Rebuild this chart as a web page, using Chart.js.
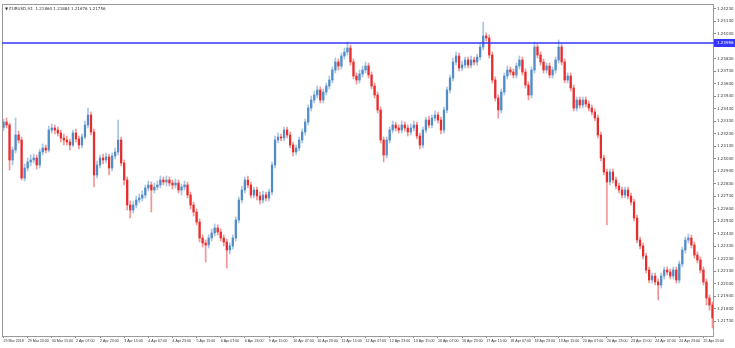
<!DOCTYPE html>
<html>
<head>
<meta charset="utf-8">
<script src="https://cdn.jsdelivr.net/npm/chart.js@4.4.1/dist/chart.umd.min.js"></script>
<style>
  html, body { margin: 0; padding: 0; background: #fff; }
  #wrap { width: 735px; height: 348px; }
</style>
</head>
<body>
<div id="wrap"><canvas id="eurusd" width="735" height="348"></canvas></div>
<script>
var symbolTitle = "\u25BC EURUSD,H1  1.21860 1.21884 1.21676 1.21756";

var timeLabels = ["29 Mar 2018","29 Mar 23:00","30 Mar 15:00","2 Apr 07:00","2 Apr 23:00","3 Apr 15:00",
  "4 Apr 07:00","4 Apr 23:00","5 Apr 15:00","6 Apr 07:00","6 Apr 23:00","9 Apr 15:00","10 Apr 07:00",
  "10 Apr 23:00","11 Apr 15:00","12 Apr 07:00","12 Apr 23:00","13 Apr 15:00","16 Apr 07:00","16 Apr 23:00",
  "17 Apr 15:00","18 Apr 07:00","18 Apr 23:00","19 Apr 15:00","20 Apr 07:00","20 Apr 23:00","23 Apr 15:00",
  "24 Apr 07:00","24 Apr 23:00","25 Apr 15:00"];

var priceTicks = [1.24230,1.24130,1.24030,1.23930,1.23830,1.23730,1.23630,1.23530,1.23430,1.23330,
  1.23230,1.23130,1.23030,1.22930,1.22830,1.22730,1.22630,1.22530,1.22430,1.22330,
  1.22230,1.22130,1.22030,1.21930,1.21830,1.21730];

var bidLevel = 1.23956;

var opens = [1.23280,1.23324,1.23300,1.23020,1.23100,1.23220,1.23180,1.22876,1.22956,1.23004,
  1.23020,1.23036,1.22980,1.23084,1.23116,1.23100,1.23260,1.23276,1.23260,1.23236,
  1.23196,1.23180,1.23164,1.23140,1.23236,1.23188,1.23140,1.23204,1.23300,1.23380,
  1.23244,1.22900,1.22980,1.23036,1.23020,1.23044,1.22956,1.23052,1.23084,1.23180,
  1.22996,1.22860,1.22660,1.22620,1.22660,1.22700,1.22716,1.22740,1.22796,1.22820,
  1.22780,1.22804,1.22820,1.22860,1.22844,1.22860,1.22836,1.22820,1.22836,1.22780,
  1.22804,1.22820,1.22740,1.22660,1.22604,1.22524,1.22396,1.22356,1.22340,1.22396,
  1.22436,1.22476,1.22444,1.22396,1.22364,1.22300,1.22332,1.22396,1.22540,1.22700,
  1.22780,1.22860,1.22820,1.22740,1.22780,1.22732,1.22700,1.22740,1.22716,1.22764,
  1.22980,1.23180,1.23204,1.23196,1.23260,1.23220,1.23140,1.23084,1.23116,1.23180,
  1.23244,1.23324,1.23436,1.23500,1.23540,1.23580,1.23500,1.23564,1.23612,1.23660,
  1.23740,1.23804,1.23772,1.23852,1.23884,1.23916,1.23804,1.23692,1.23660,1.23708,
  1.23740,1.23772,1.23700,1.23612,1.23540,1.23420,1.23180,1.23060,1.23180,1.23260,
  1.23300,1.23276,1.23260,1.23300,1.23276,1.23244,1.23276,1.23300,1.23212,1.23140,
  1.23260,1.23340,1.23300,1.23356,1.23380,1.23340,1.23260,1.23420,1.23580,1.23676,
  1.23804,1.23852,1.23756,1.23780,1.23820,1.23780,1.23820,1.23804,1.23844,1.23924,
  1.24012,1.23996,1.23860,1.23660,1.23516,1.23420,1.23564,1.23692,1.23740,1.23724,
  1.23700,1.23772,1.23820,1.23724,1.23620,1.23540,1.23740,1.23924,1.23860,1.23804,
  1.23740,1.23772,1.23700,1.23740,1.23820,1.23924,1.23804,1.23660,1.23692,1.23596,
  1.23436,1.23500,1.23460,1.23500,1.23468,1.23436,1.23404,1.23356,1.23220,1.23036,
  1.22924,1.22844,1.22924,1.22860,1.22812,1.22780,1.22740,1.22780,1.22732,1.22684,
  1.22556,1.22380,1.22332,1.22252,1.22140,1.22060,1.22092,1.22044,1.22020,1.22092,
  1.22140,1.22124,1.22092,1.22140,1.22060,1.22188,1.22300,1.22380,1.22396,1.22340,
  1.22260,1.22220,1.22140,1.22044,1.21916,1.21860];

var highs = [1.23348,1.23356,1.23316,1.23124,1.23356,1.23252,1.23204,1.22988,1.23036,1.23060,
  1.23068,1.23060,1.23108,1.23148,1.23140,1.23292,1.23308,1.23300,1.23284,1.23260,
  1.23228,1.23212,1.23188,1.23260,1.23268,1.23212,1.23228,1.23332,1.23436,1.23404,
  1.23268,1.23012,1.23060,1.23068,1.23076,1.23068,1.23076,1.23116,1.23340,1.23204,
  1.23020,1.22884,1.22692,1.22692,1.22732,1.22748,1.22772,1.22820,1.22852,1.22844,
  1.22836,1.22852,1.22892,1.22884,1.22892,1.22884,1.22860,1.22868,1.22860,1.22828,
  1.22852,1.22844,1.22764,1.22684,1.22628,1.22548,1.22420,1.22380,1.22420,1.22468,
  1.22508,1.22500,1.22468,1.22420,1.22388,1.22356,1.22420,1.22564,1.22724,1.22812,
  1.22884,1.22892,1.22844,1.22804,1.22804,1.22764,1.22772,1.22764,1.22788,1.23004,
  1.23212,1.23236,1.23228,1.23284,1.23284,1.23244,1.23164,1.23140,1.23204,1.23268,
  1.23348,1.23460,1.23532,1.23572,1.23612,1.23604,1.23588,1.23636,1.23692,1.23764,
  1.23836,1.23828,1.23876,1.23916,1.23964,1.23940,1.23828,1.23716,1.23740,1.23772,
  1.23804,1.23796,1.23724,1.23636,1.23564,1.23444,1.23204,1.23204,1.23284,1.23332,
  1.23324,1.23300,1.23332,1.23324,1.23300,1.23308,1.23332,1.23324,1.23236,1.23284,
  1.23364,1.23372,1.23380,1.23412,1.23404,1.23364,1.23444,1.23604,1.23700,1.23836,
  1.23884,1.23876,1.23812,1.23844,1.23844,1.23852,1.23844,1.23868,1.23948,1.24124,
  1.24036,1.24020,1.23884,1.23684,1.23540,1.23588,1.23716,1.23772,1.23764,1.23748,
  1.23796,1.23852,1.23844,1.23748,1.23644,1.23764,1.23964,1.23948,1.23884,1.23828,
  1.23796,1.23796,1.23764,1.23844,1.23980,1.23948,1.23828,1.23716,1.23716,1.23620,
  1.23524,1.23524,1.23524,1.23524,1.23492,1.23460,1.23428,1.23380,1.23244,1.23060,
  1.22948,1.22948,1.22948,1.22884,1.22836,1.22804,1.22804,1.22804,1.22756,1.22708,
  1.22580,1.22404,1.22356,1.22276,1.22164,1.22116,1.22116,1.22068,1.22116,1.22164,
  1.22164,1.22148,1.22164,1.22164,1.22212,1.22324,1.22404,1.22428,1.22420,1.22364,
  1.22284,1.22244,1.22164,1.22068,1.21940,1.21884];

var lows = [1.23256,1.23276,1.22940,1.22980,1.23076,1.23156,1.22860,1.22852,1.22932,1.22972,
  1.22996,1.22948,1.22956,1.23060,1.23076,1.23084,1.23236,1.23228,1.23212,1.23164,
  1.23140,1.23140,1.23100,1.23124,1.23164,1.23108,1.23116,1.23188,1.23276,1.23220,
  1.22804,1.22876,1.22956,1.22988,1.22996,1.22900,1.22932,1.23028,1.23060,1.22972,
  1.22820,1.22620,1.22556,1.22596,1.22636,1.22676,1.22692,1.22716,1.22772,1.22604,
  1.22756,1.22780,1.22796,1.22820,1.22812,1.22812,1.22788,1.22796,1.22756,1.22740,
  1.22780,1.22716,1.22628,1.22572,1.22500,1.22364,1.22324,1.22204,1.22316,1.22372,
  1.22412,1.22420,1.22372,1.22332,1.22156,1.22268,1.22308,1.22372,1.22516,1.22676,
  1.22756,1.22796,1.22716,1.22716,1.22700,1.22668,1.22676,1.22692,1.22692,1.22740,
  1.22956,1.23156,1.23172,1.23172,1.23196,1.23116,1.23052,1.23060,1.23092,1.23156,
  1.23220,1.23300,1.23412,1.23476,1.23516,1.23476,1.23476,1.23540,1.23588,1.23636,
  1.23716,1.23740,1.23748,1.23828,1.23860,1.23780,1.23668,1.23628,1.23636,1.23684,
  1.23716,1.23676,1.23588,1.23516,1.23396,1.23156,1.23004,1.23036,1.23156,1.23236,
  1.23252,1.23236,1.23236,1.23252,1.23212,1.23220,1.23252,1.23188,1.23108,1.23116,
  1.23236,1.23276,1.23276,1.23332,1.23316,1.23228,1.23236,1.23396,1.23556,1.23652,
  1.23780,1.23732,1.23732,1.23756,1.23756,1.23756,1.23780,1.23780,1.23820,1.23900,
  1.23972,1.23836,1.23636,1.23492,1.23356,1.23396,1.23540,1.23668,1.23700,1.23676,
  1.23676,1.23748,1.23700,1.23596,1.23500,1.23516,1.23716,1.23836,1.23780,1.23716,
  1.23716,1.23676,1.23676,1.23716,1.23796,1.23780,1.23636,1.23636,1.23572,1.23412,
  1.23412,1.23436,1.23436,1.23444,1.23412,1.23380,1.23332,1.23196,1.23012,1.22900,
  1.22500,1.22820,1.22836,1.22788,1.22756,1.22716,1.22716,1.22708,1.22660,1.22532,
  1.22356,1.22308,1.22228,1.22116,1.22036,1.22036,1.22020,1.21900,1.21996,1.22068,
  1.22100,1.22068,1.22068,1.22036,1.22036,1.22164,1.22276,1.22356,1.22316,1.22236,
  1.22196,1.22116,1.22020,1.21860,1.21820,1.21676];

var closes = [1.23324,1.23300,1.23020,1.23100,1.23220,1.23180,1.22876,1.22956,1.23004,1.23020,
  1.23036,1.22980,1.23084,1.23116,1.23100,1.23260,1.23276,1.23260,1.23236,1.23196,
  1.23180,1.23164,1.23140,1.23236,1.23188,1.23140,1.23204,1.23300,1.23380,1.23244,
  1.22900,1.22980,1.23036,1.23020,1.23044,1.22956,1.23052,1.23084,1.23180,1.22996,
  1.22860,1.22660,1.22620,1.22660,1.22700,1.22716,1.22740,1.22796,1.22820,1.22780,
  1.22804,1.22820,1.22860,1.22844,1.22860,1.22836,1.22820,1.22836,1.22780,1.22804,
  1.22820,1.22740,1.22660,1.22604,1.22524,1.22396,1.22356,1.22340,1.22396,1.22436,
  1.22476,1.22444,1.22396,1.22364,1.22300,1.22332,1.22396,1.22540,1.22700,1.22780,
  1.22860,1.22820,1.22740,1.22780,1.22732,1.22700,1.22740,1.22716,1.22764,1.22980,
  1.23180,1.23204,1.23196,1.23260,1.23220,1.23140,1.23084,1.23116,1.23180,1.23244,
  1.23324,1.23436,1.23500,1.23540,1.23580,1.23500,1.23564,1.23612,1.23660,1.23740,
  1.23804,1.23772,1.23852,1.23884,1.23916,1.23804,1.23692,1.23660,1.23708,1.23740,
  1.23772,1.23700,1.23612,1.23540,1.23420,1.23180,1.23060,1.23180,1.23260,1.23300,
  1.23276,1.23260,1.23300,1.23276,1.23244,1.23276,1.23300,1.23212,1.23140,1.23260,
  1.23340,1.23300,1.23356,1.23380,1.23340,1.23260,1.23420,1.23580,1.23676,1.23804,
  1.23852,1.23756,1.23780,1.23820,1.23780,1.23820,1.23804,1.23844,1.23924,1.24012,
  1.23996,1.23860,1.23660,1.23516,1.23420,1.23564,1.23692,1.23740,1.23724,1.23700,
  1.23772,1.23820,1.23724,1.23620,1.23540,1.23740,1.23924,1.23860,1.23804,1.23740,
  1.23772,1.23700,1.23740,1.23820,1.23924,1.23804,1.23660,1.23692,1.23596,1.23436,
  1.23500,1.23460,1.23500,1.23468,1.23436,1.23404,1.23356,1.23220,1.23036,1.22924,
  1.22844,1.22924,1.22860,1.22812,1.22780,1.22740,1.22780,1.22732,1.22684,1.22556,
  1.22380,1.22332,1.22252,1.22140,1.22060,1.22092,1.22044,1.22020,1.22092,1.22140,
  1.22124,1.22092,1.22140,1.22060,1.22188,1.22300,1.22380,1.22396,1.22340,1.22260,
  1.22220,1.22140,1.22044,1.21916,1.21860,1.21756];

// bar index categories, bodies and wicks as floating bars
var bars = opens.map(function(v, i) { return i; });
var bodies = opens.map(function(o, i) { return [o, closes[i]]; });
var wicks = lows.map(function(l, i) { return [l, highs[i]]; });

function candleColor(i, a) {
  return closes[i] >= opens[i] ? 'rgba(80,140,200,' + a + ')' : 'rgba(232,44,44,' + a + ')';
}

var mtOverlay = {
  id: 'mtOverlay',
  afterDraw: function(chart) {
    var ctx = chart.ctx, a = chart.chartArea, ys = chart.scales.y;
    ctx.save();
    // frame
    ctx.strokeStyle = '#9a9a9a';
    ctx.lineWidth = 1;
    ctx.strokeRect(a.left + 0.5, a.top + 0.5, a.right - a.left - 1, a.bottom - a.top);
    // bid line
    var py = Math.round(ys.getPixelForValue(bidLevel));
    ctx.strokeStyle = '#3434ff';
    ctx.lineWidth = 1.5;
    ctx.beginPath();
    ctx.moveTo(a.left, py);
    ctx.lineTo(a.right, py);
    ctx.stroke();
    ctx.fillStyle = '#3434ff';
    ctx.fillRect(a.right, py - 4, 21, 8);
    ctx.fillStyle = '#fff';
    ctx.font = '4px "DejaVu Sans"';
    ctx.textBaseline = 'middle';
    ctx.fillText(bidLevel.toFixed(5), a.right + 3, py);
    // title
    ctx.fillStyle = '#333';
    ctx.font = '4px "DejaVu Sans"';
    ctx.fillText(symbolTitle, a.left + 3, a.top + 5);
    ctx.restore();
  }
};

new Chart(document.getElementById('eurusd'), {
  type: 'bar',
  data: {
    labels: bars,
    datasets: [{
      data: bodies,
      grouped: false,
      barThickness: 1.6,
      minBarLength: 1,
      backgroundColor: function(c) { return candleColor(c.dataIndex, 1); }
    }, {
      data: wicks,
      grouped: false,
      barThickness: 1,
      backgroundColor: function(c) { return candleColor(c.dataIndex, 0.5); }
    }]
  },
  options: {
    responsive: false,
    animation: false,
    layout: { padding: { left: 2, top: 4, right: 0, bottom: 0 } },
    plugins: { legend: { display: false }, tooltip: { enabled: false } },
    scales: {
      x: {
        offset: true,
        grid: {
          offset: false, drawOnChartArea: false, tickLength: 2,
          color: function(c) { return c.index % 8 === 0 ? '#888' : 'rgba(0,0,0,0)'; }
        },
        border: { display: false },
        ticks: {
          autoSkip: false, maxRotation: 0, minRotation: 0, align: 'start', padding: 1,
          color: '#333', font: { size: 3.6, family: 'Liberation Sans' },
          callback: function(v, i) { return i % 8 === 0 ? timeLabels[i / 8] : ''; }
        },
        afterFit: function(s) { s.height = 12; }
      },
      y: {
        position: 'right',
        min: 1.21612,
        max: 1.24268,
        afterBuildTicks: function(s) { s.ticks = priceTicks.map(function(v) { return { value: v }; }); },
        afterFit: function(s) { s.width = 21; },
        grid: { drawOnChartArea: false, tickLength: 2, color: '#888' },
        border: { display: false },
        ticks: {
          padding: 1, color: '#333', font: { size: 4, family: 'DejaVu Sans' },
          callback: function(v) { return Number(v).toFixed(5); }
        }
      }
    }
  },
  plugins: [mtOverlay]
});
</script>
</body>
</html>
